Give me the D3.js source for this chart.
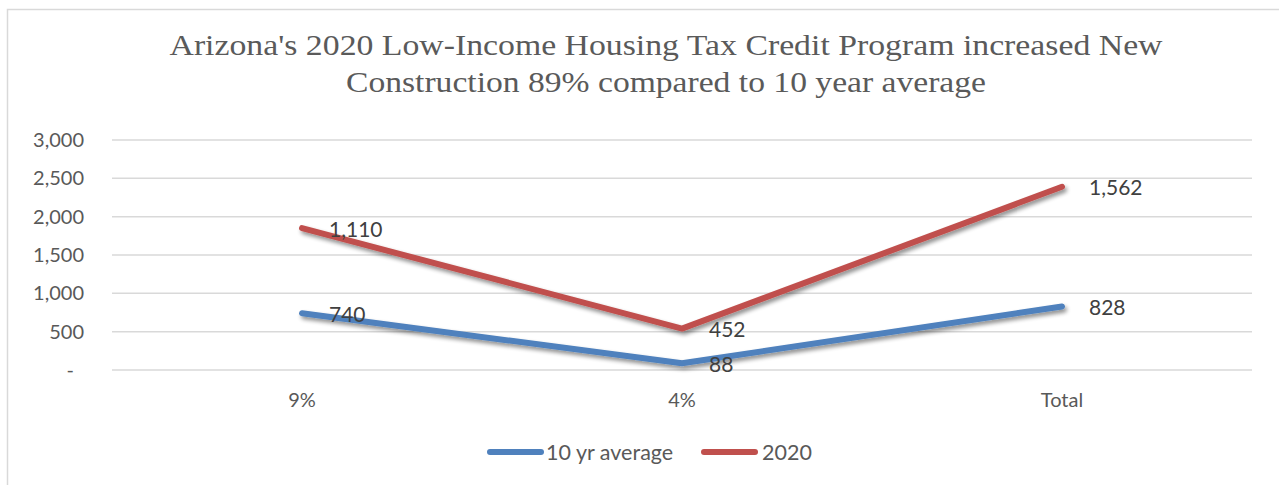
<!DOCTYPE html>
<html><head><meta charset="utf-8">
<script src="https://cdn.jsdelivr.net/npm/d3@7"></script>
<style>body{margin:0;background:#fff}svg{display:block}</style>
</head><body>
<svg id="c" width="1279" height="485"></svg>
<script>
const categories = ["9%", "4%", "Total"];
const avgValues = [740, 88, 828];
const y2020Values = [1110, 452, 1562];
const seriesNames = ["10 yr average", "2020"];
const yTicks = [0, 500, 1000, 1500, 2000, 2500, 3000];
const titleLines = ["Arizona's 2020 Low-Income Housing Tax Credit Program increased New", "Construction 89% compared to 10 year average"];

const svg = d3.select("#c");
const W = 1279, H = 485;
const m = {l: 112, r: 1252, t: 140, b: 370};
const colors = ["#4F81BD", "#C0504D"];
const font = "Lato, 'Open Sans', sans-serif";

// frame
svg.append("rect").attr("x", 7.5).attr("y", 9.5).attr("width", W).attr("height", H)
  .attr("fill", "#fff").attr("stroke", "#d9d9d9").attr("stroke-width", 1.5);

const defs = svg.append("defs");
const f = defs.append("filter").attr("id", "sh").attr("x", "-10%").attr("y", "-50%").attr("width", "120%").attr("height", "200%");
f.append("feGaussianBlur").attr("in", "SourceAlpha").attr("stdDeviation", 2);
f.append("feOffset").attr("dx", 2).attr("dy", 3).attr("result", "b");
f.append("feComponentTransfer").append("feFuncA").attr("type", "linear").attr("slope", 0.45);
const mg = f.append("feMerge"); mg.append("feMergeNode"); mg.append("feMergeNode").attr("in", "SourceGraphic");

// title
svg.selectAll(".title").data(titleLines).join("text")
  .attr("x", 666).attr("y", (d, i) => 55 + i * 37)
  .attr("text-anchor", "middle").attr("fill", "#5a5a5a")
  .attr("font-family", "'Liberation Serif', 'DejaVu Serif', serif").attr("font-size", 30)
  .attr("textLength", (d, i) => i === 0 ? 993 : 640).attr("lengthAdjust", "spacingAndGlyphs")
  .text(d => d);

const x = d3.scaleBand().domain(categories).range([m.l, m.r]);
const y = d3.scaleLinear().domain([0, 3000]).range([m.b, m.t]);

// grid
svg.append("g").selectAll("line").data(yTicks).join("line")
  .attr("x1", m.l).attr("x2", m.r).attr("y1", d => y(d)).attr("y2", d => y(d))
  .attr("stroke", "#d9d9d9").attr("stroke-width", 1.5);

// y axis
const fmt = d3.format(",");
const yAxis = d3.axisLeft(y).tickValues(yTicks).tickSize(0).tickPadding(0)
  .tickFormat(d => d === 0 ? "-" : fmt(d));
const ga = svg.append("g").attr("transform", `translate(${m.l - 28},0)`).call(yAxis);
ga.select(".domain").remove();
ga.selectAll("text").attr("font-family", font).attr("font-size", 20).attr("fill", "#595959");
ga.selectAll(".tick").filter(d => d === 0).select("text").attr("dx", -10);

// x axis
const xAxis = d3.axisBottom(x).tickSize(0).tickPadding(0);
const gx = svg.append("g").attr("transform", `translate(0,${m.b + 23})`).call(xAxis);
gx.select(".domain").remove();
gx.selectAll("text").attr("font-family", font).attr("font-size", 20).attr("fill", "#595959");

// stacked series
const cx = c => x(c) + x.bandwidth() / 2;
const stacked = [
  avgValues.map((v, i) => ({c: categories[i], v, top: v})),
  y2020Values.map((v, i) => ({c: categories[i], v, top: v + avgValues[i]}))
];
const line = d3.line().x(d => cx(d.c)).y(d => y(d.top));
stacked.forEach((s, si) => {
  svg.append("path").datum(s).attr("d", line).attr("fill", "none")
    .attr("stroke", colors[si]).attr("stroke-width", 6)
    .attr("stroke-linecap", "round").attr("stroke-linejoin", "round")
    .attr("filter", "url(#sh)");
});
stacked.forEach((s, si) => {
  svg.append("g").selectAll("text").data(s).join("text")
    .attr("x", d => cx(d.c) + 27).attr("y", d => y(d.top) + 1).attr("dy", "0.35em")
    .attr("font-family", font).attr("font-size", 21).attr("fill", "#404040")
    .text(d => fmt(d.v));
});

// legend
const leg = [{x: 487, tx: 546}, {x: 701, tx: 762}];
seriesNames.forEach((n, i) => {
  svg.append("line").attr("x1", leg[i].x + 3).attr("x2", leg[i].x + 54).attr("y1", 452).attr("y2", 452)
    .attr("stroke", colors[i]).attr("stroke-width", 6).attr("stroke-linecap", "round");
  svg.append("text").attr("x", leg[i].tx).attr("y", 452).attr("dy", "0.35em")
    .attr("font-family", font).attr("font-size", 21.5).attr("fill", "#595959").text(n);
});
</script>
</body></html>
